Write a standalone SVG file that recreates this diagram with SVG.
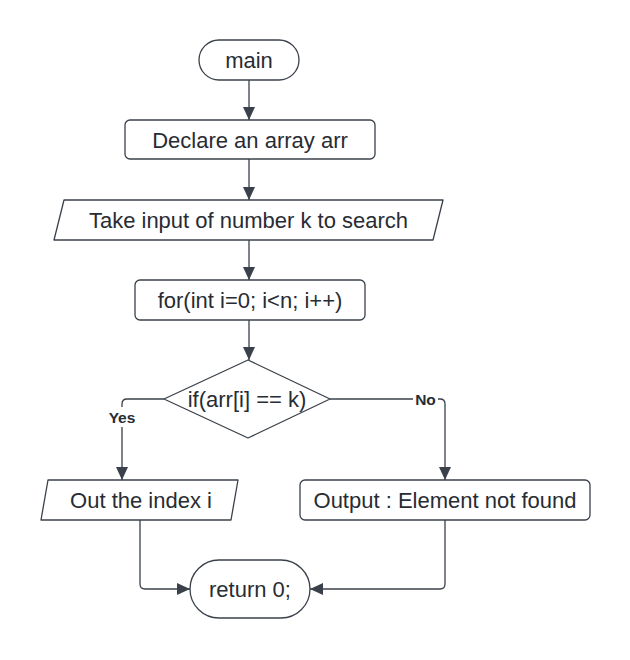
<svg xmlns="http://www.w3.org/2000/svg" width="630" height="660" viewBox="0 0 630 660">
<defs>
<style>
.shape{fill:#ffffff;stroke:#3a414a;stroke-width:1.3;stroke-linejoin:round}
.t{font-family:"Liberation Sans",Arial,sans-serif;font-size:22px;fill:#282c33;text-anchor:middle}
.lbl{font-family:"Liberation Sans",Arial,sans-serif;font-size:15.5px;font-weight:bold;fill:#282c33;text-anchor:middle}
.c{fill:none;stroke:#3a414a;stroke-width:1.3}
</style>
<marker id="arr" markerWidth="14" markerHeight="12" refX="13" refY="6" orient="auto" markerUnits="userSpaceOnUse">
<path d="M0,0 L13,6 L0,12 Z" fill="#3a414a"/>
</marker>
</defs>
<rect width="630" height="660" fill="#ffffff"/>
<g id="connectors">
<path class="c" d="M249,80 V120" marker-end="url(#arr)"/>
<path class="c" d="M249,159 V200" marker-end="url(#arr)"/>
<path class="c" d="M249,240 V280" marker-end="url(#arr)"/>
<path class="c" d="M249,320 V360" marker-end="url(#arr)"/>
<path class="c" d="M164,399 H127 Q122,399 122,404 V480" marker-end="url(#arr)"/>
<path class="c" d="M330,399 H440 Q445,399 445,404 V480" marker-end="url(#arr)"/>
<path class="c" d="M140,520 V584 Q140,589 145,589 H190" marker-end="url(#arr)"/>
<path class="c" d="M445,520 V584 Q445,589 440,589 H310" marker-end="url(#arr)"/>
<rect x="109" y="407" width="26" height="20" fill="#ffffff"/>
<text class="lbl" x="122" y="423">Yes</text>
<rect x="413" y="390" width="25" height="19" fill="#ffffff"/>
<text class="lbl" x="425.5" y="405">No</text>
</g>
<g id="main">
<rect class="shape" x="199" y="40" width="100" height="40" rx="20"/>
<text class="t" x="249" y="67.5">main</text>
</g>
<g id="declare">
<rect class="shape" x="125" y="120" width="250" height="39" rx="5"/>
<text class="t" x="250" y="147.5">Declare an array arr</text>
</g>
<g id="input">
<path class="shape" d="M64,200 H443 L433,240 H54 Z"/>
<text class="t" x="248.5" y="228">Take input of number k to search</text>
</g>
<g id="loop">
<rect class="shape" x="135" y="280" width="230" height="40" rx="5"/>
<text class="t" x="250" y="308">for(int i=0; i&lt;n; i++)</text>
</g>
<g id="decision">
<path class="shape" d="M248,360 L330,399 L248,438 L164,399 Z"/>
<text class="t" x="247" y="407">if(arr[i] == k)</text>
</g>
<g id="found">
<path class="shape" d="M48,480 H238 L231,520 H41 Z"/>
<text class="t" x="141" y="508">Out the index i</text>
</g>
<g id="notfound">
<rect class="shape" x="300" y="480" width="290" height="40" rx="5"/>
<text class="t" x="445" y="508">Output : Element not found</text>
</g>
<g id="return">
<rect class="shape" x="190" y="560" width="120" height="58" rx="29"/>
<text class="t" x="250" y="597">return 0;</text>
</g>
</svg>
